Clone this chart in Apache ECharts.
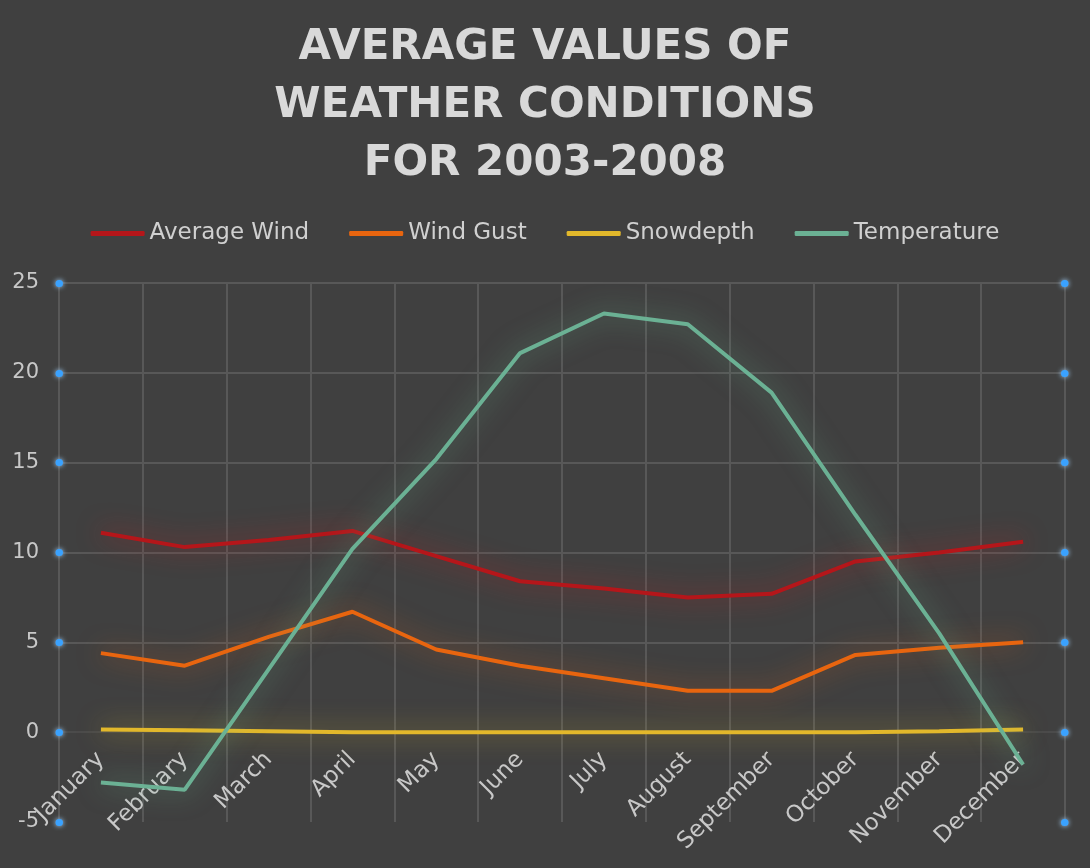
<!DOCTYPE html>
<html>
<head>
<meta charset="utf-8">
<script src="https://cdn.jsdelivr.net/npm/echarts@6/dist/echarts.min.js"></script>
<style>
    html, body { margin: 0; padding: 0; background: #404040; }
    #main { width: 1090px; height: 868px; }
</style>
</head>
<body>
<div id="main"></div>
<script>
var months = ['January', 'February', 'March', 'April', 'May', 'June', 'July', 'August', 'September', 'October', 'November', 'December'];
var avgWind = [11.1, 10.3, 10.7, 11.2, 9.8, 8.4, 8.0, 7.5, 7.7, 9.5, 10.0, 10.6];
var windGust = [4.4, 3.7, 5.3, 6.7, 4.6, 3.7, 3.0, 2.3, 2.3, 4.3, 4.7, 5.0];
var snowdepth = [0.15, 0.1, 0.05, 0, 0, 0, 0, 0, 0, 0, 0.05, 0.15];
var temperature = [-2.8, -3.2, 3.5, 10.2, 15.2, 21.1, 23.3, 22.7, 18.9, 12.1, 5.5, -1.8];

var chart = (function () {
    var myChart = echarts.init(document.getElementById('main'));
    var font = 'DejaVu Sans';
    var gridColor = '#585858';
    var faint = '#4b4b4b';

    function line(name, data, color, glow) {
        return {
            name: name,
            type: 'line',
            data: data,
            showSymbol: false,
            symbol: 'none',
            lineStyle: {
                width: 4,
                color: color,
                shadowBlur: 26,
                shadowColor: glow
            },
            itemStyle: { color: color }
        };
    }

    // shared y axis settings, left one has labels, right one only the dots
    function yAxis(pos, labels) {
        return {
            type: 'value',
            position: pos,
            min: -5,
            max: 25,
            interval: 5,
            axisLine: { show: true, lineStyle: { color: gridColor, width: 1.5 } },
            axisTick: {
                show: true,
                inside: true,
                length: 0.5,
                lineStyle: { color: '#3aa2ff', width: 7, cap: 'round', shadowBlur: 5, shadowColor: '#a8d6ff' }
            },
            axisLabel: { show: labels, color: '#c8c8c8', fontSize: 21, fontFamily: font, margin: 20 },
            splitLine: {
                show: labels,
                // -5 line is hidden and 0 line is dim in the original
                lineStyle: { color: ['#404040', faint, gridColor, gridColor, gridColor, gridColor, gridColor], width: 2 }
            }
        };
    }

    var option = {
        backgroundColor: '#404040',
        title: {
            text: 'AVERAGE VALUES OF\nWEATHER CONDITIONS\nFOR 2003-2008',
            left: 'center',
            top: 14,
            textStyle: {
                color: '#d9d9d9',
                fontSize: 42,
                fontWeight: 'bold',
                fontFamily: font,
                lineHeight: 58
            }
        },
        legend: {
            top: 217,
            left: 'center',
            icon: 'roundRect',
            itemWidth: 54,
            itemHeight: 5,
            itemGap: 40,
            textStyle: { color: '#d0d0d0', fontSize: 23, fontFamily: font },
            data: ['Average Wind', 'Wind Gust', 'Snowdepth', 'Temperature']
        },
        grid: {
            left: 59,
            right: 25,
            top: 283,
            bottom: 46,
            outerBoundsMode: 'none'
        },
        xAxis: {
            type: 'category',
            data: months,
            boundaryGap: true,
            offset: -90, // category axis sits on the 0 line, like excel
            axisLine: { show: true, onZero: true, onZeroAxisIndex: 0, lineStyle: { color: faint, width: 2 } },
            axisTick: { show: false },
            axisLabel: {
                color: '#c8c8c8',
                fontSize: 23,
                fontFamily: font,
                rotate: 45,
                margin: 24,
                interval: 0
            },
            splitLine: { show: true, lineStyle: { color: gridColor, width: 2 } }
        },
        yAxis: [yAxis('left', true), yAxis('right', false)],
        series: [
            line('Average Wind', avgWind, '#b5161a', 'rgba(205,30,30,0.8)'),
            line('Wind Gust', windGust, '#e8650f', 'rgba(235,100,20,0.65)'),
            line('Snowdepth', snowdepth, '#e2b82b', 'rgba(230,190,40,0.65)'),
            line('Temperature', temperature, '#6bb194', 'rgba(110,190,150,0.65)')
        ]
    };
    myChart.setOption(option);
    return myChart;
})();
</script>
</body>
</html>
